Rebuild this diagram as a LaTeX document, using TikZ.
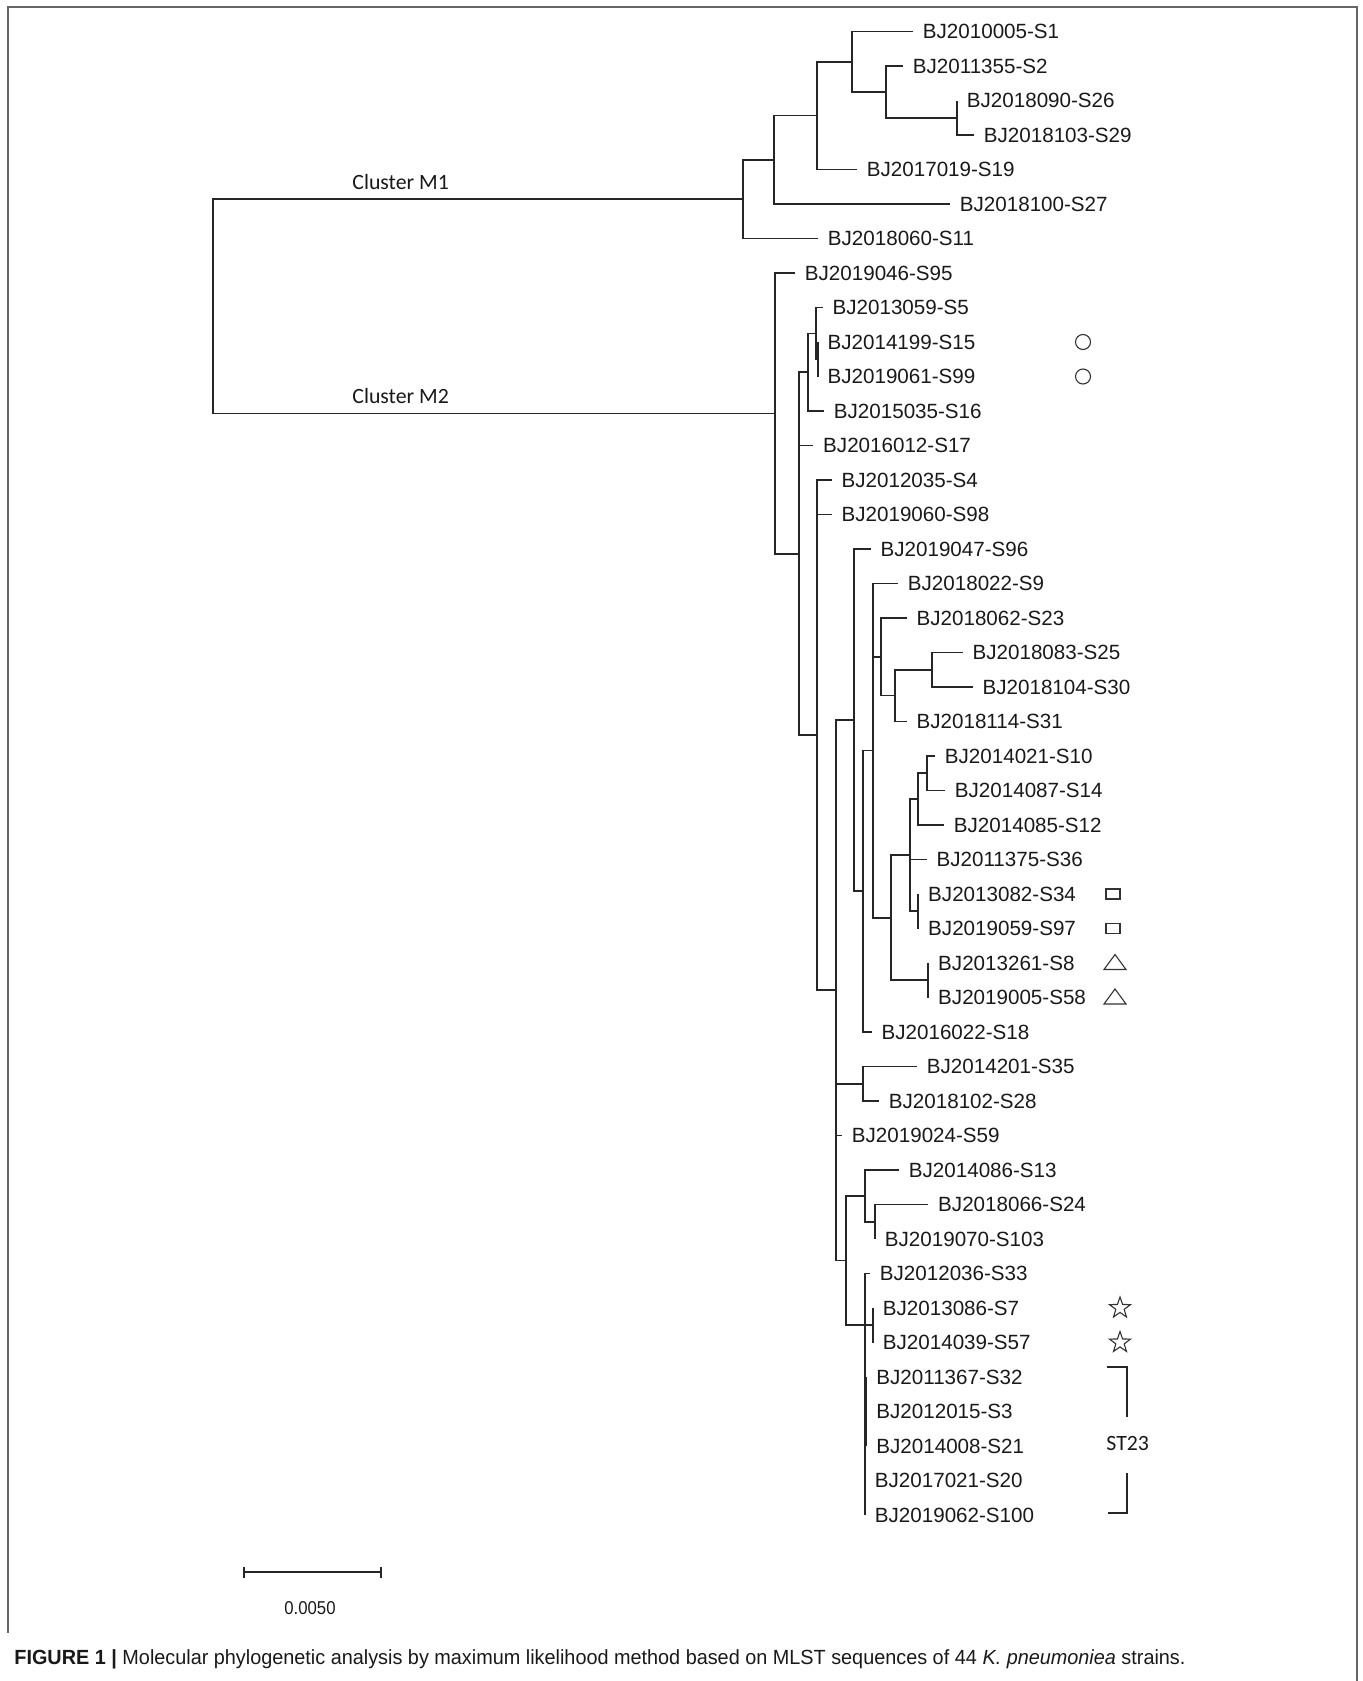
\documentclass[tikz,border=0pt]{standalone}
\usepackage{fontspec}
\setmainfont{Liberation Sans}
\newfontfamily\cladefont{Carlito}
\usetikzlibrary{shapes.geometric, arrows.meta}

\begin{document}
\begin{tikzpicture}[x=0.5pt, y=-0.5pt,
  BranchStyle/.style={draw=black!85, line width=0.85pt},
  LeafStyle/.style={anchor=west, inner xsep=4.75pt, inner ysep=0pt,
    text=black!90, font=\fontsize{10.3}{12}\selectfont},
  CladeStyle/.style={anchor=base west, inner sep=0pt, text=black!90,
    font=\cladefont\fontsize{10.9}{13}\selectfont},
  MarkStyle/.style={draw=black!80, line width=0.55pt, inner sep=0pt},
  FrameStyle/.style={draw=black!60, line width=1pt}]
  \useasboundingbox (0,0) rectangle (1363,1681);
  \draw[FrameStyle] (7.5,1633) -- (7.5,6.5) -- (1356.5,6.5) -- (1356.5,1681); % open frame

  % leaves of cluster M1, placed at the tip of their branch
  \node[LeafStyle] (s1)   at (913,31.5)    {BJ2010005-S1};
  \node[LeafStyle] (s2)   at (903,66)      {BJ2011355-S2};
  \node[LeafStyle] (s26)  at (957,100.5)   {BJ2018090-S26};
  \node[LeafStyle] (s29)  at (974,135)     {BJ2018103-S29};
  \node[LeafStyle] (s19)  at (857,169.5)   {BJ2017019-S19};
  \node[LeafStyle] (s27)  at (950,204)     {BJ2018100-S27};
  \node[LeafStyle] (s11)  at (818,238.5)   {BJ2018060-S11};
  % leaves of cluster M2
  \node[LeafStyle] (s95)  at (795,273)     {BJ2019046-S95};
  \node[LeafStyle] (s5)   at (822.7,307.5) {BJ2013059-S5};
  \node[LeafStyle] (s15)  at (817.7,342)   {BJ2014199-S15};
  \node[LeafStyle] (s99)  at (817.7,376.5) {BJ2019061-S99};
  \node[LeafStyle] (s16)  at (824,411)     {BJ2015035-S16};
  \node[LeafStyle] (s17)  at (813.3,445.5) {BJ2016012-S17};
  \node[LeafStyle] (s4)   at (831.7,480)   {BJ2012035-S4};
  \node[LeafStyle] (s98)  at (831.7,514.5) {BJ2019060-S98};
  \node[LeafStyle] (s96)  at (870.7,549)   {BJ2019047-S96};
  \node[LeafStyle] (s9)   at (898,583.5)   {BJ2018022-S9};
  \node[LeafStyle] (s23)  at (906.7,618)   {BJ2018062-S23};
  \node[LeafStyle] (s25)  at (962.7,652.5) {BJ2018083-S25};
  \node[LeafStyle] (s30)  at (972.7,687)   {BJ2018104-S30};
  \node[LeafStyle] (s31)  at (906.7,721.5) {BJ2018114-S31};
  \node[LeafStyle] (s10)  at (935,756)     {BJ2014021-S10};
  \node[LeafStyle] (s14)  at (945,790.5)   {BJ2014087-S14};
  \node[LeafStyle] (s12)  at (944,825)     {BJ2014085-S12};
  \node[LeafStyle] (s36)  at (926.7,859.5) {BJ2011375-S36};
  \node[LeafStyle] (s34)  at (918.3,894)   {BJ2013082-S34};
  \node[LeafStyle] (s97)  at (918.3,928.5) {BJ2019059-S97};
  \node[LeafStyle] (s8)   at (928.3,963)   {BJ2013261-S8};
  \node[LeafStyle] (s58)  at (928.3,997.5) {BJ2019005-S58};
  \node[LeafStyle] (s18)  at (871.7,1032)  {BJ2016022-S18};
  \node[LeafStyle] (s35)  at (917,1066.5)  {BJ2014201-S35};
  \node[LeafStyle] (s28)  at (879,1101)    {BJ2018102-S28};
  \node[LeafStyle] (s59)  at (842,1135.5)  {BJ2019024-S59};
  \node[LeafStyle] (s13)  at (899,1170)    {BJ2014086-S13};
  \node[LeafStyle] (s24)  at (928.3,1204.5){BJ2018066-S24};
  \node[LeafStyle] (s103) at (875,1239)    {BJ2019070-S103};
  \node[LeafStyle] (s33)  at (870,1273.5)  {BJ2012036-S33};
  \node[LeafStyle] (s7)   at (873,1308)    {BJ2013086-S7};
  \node[LeafStyle] (s57)  at (873,1342.5)  {BJ2014039-S57};
  \node[LeafStyle] (s32)  at (866.5,1377)  {BJ2011367-S32};
  \node[LeafStyle] (s3)   at (866.5,1411.5){BJ2012015-S3};
  \node[LeafStyle] (s21)  at (866.5,1446)  {BJ2014008-S21};
  \node[LeafStyle] (s20)  at (865,1480.5)  {BJ2017021-S20};
  \node[LeafStyle] (s100) at (865,1515)    {BJ2019062-S100};

  % inner nodes, each at the middle of its children
  \coordinate (root) at (213,306.25);
  \coordinate (m1)   at (742.7,199.15);  % cluster M1
  \coordinate (m1a)  at (774,159.8);
  \coordinate (m1b)  at (817,115.6);
  \coordinate (m1c)  at (852,61.7);
  \coordinate (m1d)  at (886,91.9);
  \coordinate (m1e)  at (957,117.75);
  \coordinate (m2)   at (775,413.35);    % cluster M2
  \coordinate (m2p)  at (799.3,553.7);
  \coordinate (m2q)  at (808.3,372.2);
  \coordinate (m2r)  at (815.7,333.4);
  \coordinate (m2t)  at (817.7,359.25);
  \coordinate (m2s)  at (817.3,735.2);
  \coordinate (m2u)  at (836,990.3);
  \coordinate (m2v)  at (854.3,720.15);
  \coordinate (m2v1) at (863.3,891.3);
  \coordinate (m2v2) at (872.7,750.6);
  \coordinate (m2v3) at (880.7,656.8);
  \coordinate (m2v4) at (895,695.6);
  \coordinate (m2v4a) at (932.3,669.75);
  \coordinate (m2v5) at (891,917.7);
  \coordinate (m2v6) at (910,855.2);
  \coordinate (m2v7) at (917.7,799.1);
  \coordinate (m2v7a) at (926.7,773.25);
  \coordinate (m2v8) at (918.3,911.25);
  \coordinate (m2v9) at (928.3,980.25);
  \coordinate (m2w)  at (863.3,1083.75);
  \coordinate (m2x)  at (846,1260.5);
  \coordinate (m2y)  at (865,1195.9);
  \coordinate (m2y1) at (875,1221.75);
  \coordinate (m2z)  at (865,1325);
  \coordinate (m2z1) at (873,1325.25);
  \coordinate (m2z2) at (866.5,1411.5);

  % branches, parent |- child
  \draw[BranchStyle] (root) |- (m1)  (root) |- (m2);
  \draw[BranchStyle] (m1) |- (m1a)  (m1) |- (s11.west);
  \draw[BranchStyle] (m1a) |- (m1b)  (m1a) |- (s27.west);
  \draw[BranchStyle] (m1b) |- (m1c)  (m1b) |- (s19.west);
  \draw[BranchStyle] (m1c) |- (s1.west)  (m1c) |- (m1d);
  \draw[BranchStyle] (m1d) |- (s2.west)  (m1d) |- (m1e);
  \draw[BranchStyle] (m1e) |- (s26.west)  (m1e) |- (s29.west);
  \draw[BranchStyle] (m2) |- (s95.west)  (m2) |- (m2p);
  \draw[BranchStyle] (m2p) |- (m2q)  (m2p) |- (s17.west)  (m2p) |- (m2s);
  \draw[BranchStyle] (m2q) |- (m2r)  (m2q) |- (s16.west);
  \draw[BranchStyle] (m2r) |- (s5.west)  (m2r) |- (m2t);
  \draw[BranchStyle] (m2t) |- (s15.west)  (m2t) |- (s99.west);
  \draw[BranchStyle] (m2s) |- (s4.west)  (m2s) |- (s98.west)  (m2s) |- (m2u);
  \draw[BranchStyle] (m2u) |- (m2v)  (m2u) |- (m2w)  (m2u) |- (s59.west)  (m2u) |- (m2x);
  \draw[BranchStyle] (m2v) |- (s96.west)  (m2v) |- (m2v1);
  \draw[BranchStyle] (m2v1) |- (m2v2)  (m2v1) |- (s18.west);
  \draw[BranchStyle] (m2v2) |- (s9.west)  (m2v2) |- (m2v3)  (m2v2) |- (m2v5);
  \draw[BranchStyle] (m2v3) |- (s23.west)  (m2v3) |- (m2v4);
  \draw[BranchStyle] (m2v4) |- (m2v4a)  (m2v4) |- (s31.west);
  \draw[BranchStyle] (m2v4a) |- (s25.west)  (m2v4a) |- (s30.west);
  \draw[BranchStyle] (m2v5) |- (m2v6)  (m2v5) |- (m2v9);
  \draw[BranchStyle] (m2v6) |- (m2v7)  (m2v6) |- (s36.west)  (m2v6) |- (m2v8);
  \draw[BranchStyle] (m2v7) |- (m2v7a)  (m2v7) |- (s12.west);
  \draw[BranchStyle] (m2v7a) |- (s10.west)  (m2v7a) |- (s14.west);
  \draw[BranchStyle] (m2v8) |- (s34.west)  (m2v8) |- (s97.west);
  \draw[BranchStyle] (m2v9) |- (s8.west)  (m2v9) |- (s58.west);
  \draw[BranchStyle] (m2w) |- (s35.west)  (m2w) |- (s28.west);
  \draw[BranchStyle] (m2x) |- (m2y)  (m2x) |- (m2z);
  \draw[BranchStyle] (m2y) |- (s13.west)  (m2y) |- (m2y1);
  \draw[BranchStyle] (m2y1) |- (s24.west)  (m2y1) |- (s103.west);
  \draw[BranchStyle] (m2z) |- (s33.west)  (m2z) |- (m2z1)  (m2z) |- (m2z2)
    (m2z) |- (s20.west)  (m2z) |- (s100.west);
  \draw[BranchStyle] (m2z1) |- (s7.west)  (m2z1) |- (s57.west);
  \draw[BranchStyle] (m2z2) |- (s32.west)  (m2z2) |- (s3.west)  (m2z2) |- (s21.west);

  % cluster names over the two main branches
  \node[CladeStyle] (lm1) at (352,189.3) {Cluster M1};
  \node[CladeStyle] (lm2) at (352,403.3) {Cluster M2};

  % marks after some strains
  \node[MarkStyle, circle, minimum size=7.5pt] (o15) at (1083,342) {};
  \node[MarkStyle, circle, minimum size=7.5pt] (o99) at (1083,376.5) {};
  \node[MarkStyle, rectangle, minimum width=7pt, minimum height=5pt] (q34) at (1113,894) {};
  \node[MarkStyle, rectangle, minimum width=7pt, minimum height=5pt] (q97) at (1113,928.5) {};
  \coordinate (t8)  at (1115,962);
  \coordinate (t58) at (1115,996.5);
  \draw[MarkStyle] (t8) ++(0,-7.5) -- ++(11,15) -- ++(-22,0) -- cycle;
  \draw[MarkStyle] (t58) ++(0,-7.5) -- ++(11,15) -- ++(-22,0) -- cycle;
  \node[MarkStyle, star, star points=5, star point ratio=2.5, minimum size=11pt] (k7) at (1120,1308) {};
  \node[MarkStyle, star, star points=5, star point ratio=2.5, minimum size=11pt] (k57) at (1120,1342.5) {};

  % ST23 bracket
  \node[CladeStyle, anchor=west] (st23) at (1106,1443) {ST23};
  \coordinate (st23a) at (1107,1366.7);
  \coordinate (st23b) at (1126.7,1416.7);
  \coordinate (st23c) at (1126.7,1473);
  \coordinate (st23d) at (1108,1513.3);
  \draw[BranchStyle] (st23a) -| (st23b);
  \draw[BranchStyle] (st23c) |- (st23d);

  % scale bar
  \coordinate (sb0) at (243.4,1572);
  \coordinate (sb1) at (381.8,1572);
  \draw[BranchStyle, {Bar[width=5.5pt]}-{Bar[width=5.5pt]}] (sb0) -- (sb1);
  \node[inner sep=0pt, text=black!90, font=\fontsize{9.3}{11}\selectfont] (sbl) at (310,1608.3)
    {\scalebox{0.9}[1]{0.0050}};

  % caption
  \node[anchor=base west, inner sep=0pt, text=black!90, font=\fontsize{10.25}{12}\selectfont] (cap) at (14,1664)
    {\resizebox{585.5pt}{\height}{\textbf{FIGURE 1 |} Molecular phylogenetic analysis by maximum likelihood method based on MLST sequences of 44 \textit{K. pneumoniea} strains.}};
\end{tikzpicture}
\end{document}
